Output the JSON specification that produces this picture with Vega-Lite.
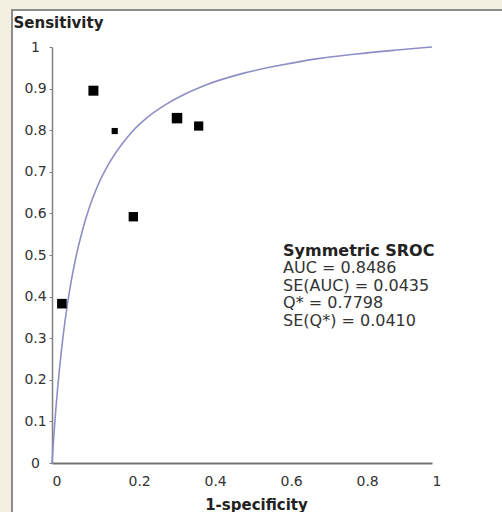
{
  "$schema": "https://vega.github.io/schema/vega-lite/v6.json",
  "autosize": {"type": "none"},
  "width": 494,
  "height": 506,
  "padding": {"left": 12, "top": 10, "right": -4, "bottom": -4},
  "background": "#f3f0e1",
  "config": {
    "view": {"fill": "white", "stroke": "#8c8c8c", "strokeWidth": 2},
    "font": "DejaVu Sans"
  },
  "datasets": {
    "studies": [
      {"x": 0.109, "y": 0.895, "weight": 100},
      {"x": 0.165, "y": 0.798, "weight": 38},
      {"x": 0.329, "y": 0.829, "weight": 110},
      {"x": 0.386, "y": 0.810, "weight": 85},
      {"x": 0.214, "y": 0.592, "weight": 88},
      {"x": 0.026, "y": 0.383, "weight": 92}
    ],
    "curve": [
      {"x": 0, "y": 0},
      {"x": 0.002, "y": 0.028},
      {"x": 0.005, "y": 0.068},
      {"x": 0.01, "y": 0.128},
      {"x": 0.02, "y": 0.229},
      {"x": 0.03, "y": 0.311},
      {"x": 0.04, "y": 0.378},
      {"x": 0.05, "y": 0.434},
      {"x": 0.06, "y": 0.482},
      {"x": 0.08, "y": 0.559},
      {"x": 0.1, "y": 0.619},
      {"x": 0.12, "y": 0.666},
      {"x": 0.15, "y": 0.720},
      {"x": 0.2, "y": 0.785},
      {"x": 0.25, "y": 0.830},
      {"x": 0.3, "y": 0.862},
      {"x": 0.35, "y": 0.887},
      {"x": 0.4, "y": 0.907},
      {"x": 0.5, "y": 0.936},
      {"x": 0.6, "y": 0.956},
      {"x": 0.7, "y": 0.972},
      {"x": 0.8, "y": 0.983},
      {"x": 0.9, "y": 0.992},
      {"x": 1, "y": 1}
    ],
    "heading": [
      {"x": 0.608, "y": 0.498, "label": "Symmetric SROC"}
    ],
    "stats": [
      {"x": 0.608, "y": 0.456, "label": "AUC = 0.8486"},
      {"x": 0.608, "y": 0.414, "label": "SE(AUC) = 0.0435"},
      {"x": 0.608, "y": 0.372, "label": "Q* = 0.7798"},
      {"x": 0.608, "y": 0.329, "label": "SE(Q*) = 0.0410"}
    ]
  },
  "encoding": {
    "x": {
      "field": "x",
      "type": "quantitative",
      "scale": {"domain": [0, 1], "range": [40, 420], "nice": false, "zero": false},
      "axis": {
        "values": [0, 0.2, 0.4, 0.6, 0.8, 1],
        "format": "~g",
        "offset": -53,
        "grid": false,
        "domainColor": "#707070",
        "domainWidth": 2,
        "tickSize": 0,
        "labelAlign": "left",
        "labelBaseline": "top",
        "labelPadding": 11,
        "labelFontSize": 14,
        "labelColor": "#333333",
        "labelFont": "DejaVu Sans",
        "title": "1-specificity",
        "titleFont": "DejaVu Sans",
        "titleFontSize": 15,
        "titleFontWeight": "bold",
        "titleColor": "#222222",
        "titleAlign": "center",
        "titleBaseline": "alphabetic",
        "titleX": 244,
        "titleY": 46
      }
    },
    "y": {
      "field": "y",
      "type": "quantitative",
      "scale": {"domain": [0, 1], "range": [453, 37], "nice": false, "zero": false},
      "axis": {
        "values": [0, 0.1, 0.2, 0.3, 0.4, 0.5, 0.6, 0.7, 0.8, 0.9, 1],
        "format": "~g",
        "offset": -40,
        "grid": false,
        "domainColor": "#808080",
        "domainWidth": 1.5,
        "tickColor": "#808080",
        "tickSize": 3,
        "labelAlign": "center",
        "labelBaseline": "middle",
        "labelPadding": 14,
        "labelFontSize": 14,
        "labelColor": "#333333",
        "labelFont": "DejaVu Sans",
        "title": "Sensitivity",
        "titleFont": "DejaVu Sans",
        "titleFontSize": 15,
        "titleFontWeight": "bold",
        "titleColor": "#222222",
        "titleAngle": 0,
        "titleAlign": "left",
        "titleBaseline": "alphabetic",
        "titleX": -39,
        "titleY": 17
      }
    }
  },
  "layer": [
    {
      "data": {"name": "curve"},
      "mark": {"type": "line", "color": "#8e8ec6", "strokeWidth": 1.6, "interpolate": "monotone"},
      "encoding": {"order": {"field": "x", "type": "quantitative"}}
    },
    {
      "data": {"name": "studies"},
      "mark": {"type": "square", "filled": true, "color": "#000000", "opacity": 1},
      "encoding": {
        "size": {"field": "weight", "type": "quantitative", "scale": {"type": "linear", "domain": [0, 120], "range": [0, 120], "zero": true}, "legend": null}
      }
    },
    {
      "data": {"name": "heading"},
      "mark": {"type": "text", "align": "left", "baseline": "alphabetic", "font": "DejaVu Sans", "fontSize": 16, "fontWeight": "bold", "color": "#222222"},
      "encoding": {"text": {"field": "label"}}
    },
    {
      "data": {"name": "stats"},
      "mark": {"type": "text", "align": "left", "baseline": "alphabetic", "font": "DejaVu Sans", "fontSize": 16, "color": "#333333"},
      "encoding": {"text": {"field": "label"}}
    }
  ]
}
